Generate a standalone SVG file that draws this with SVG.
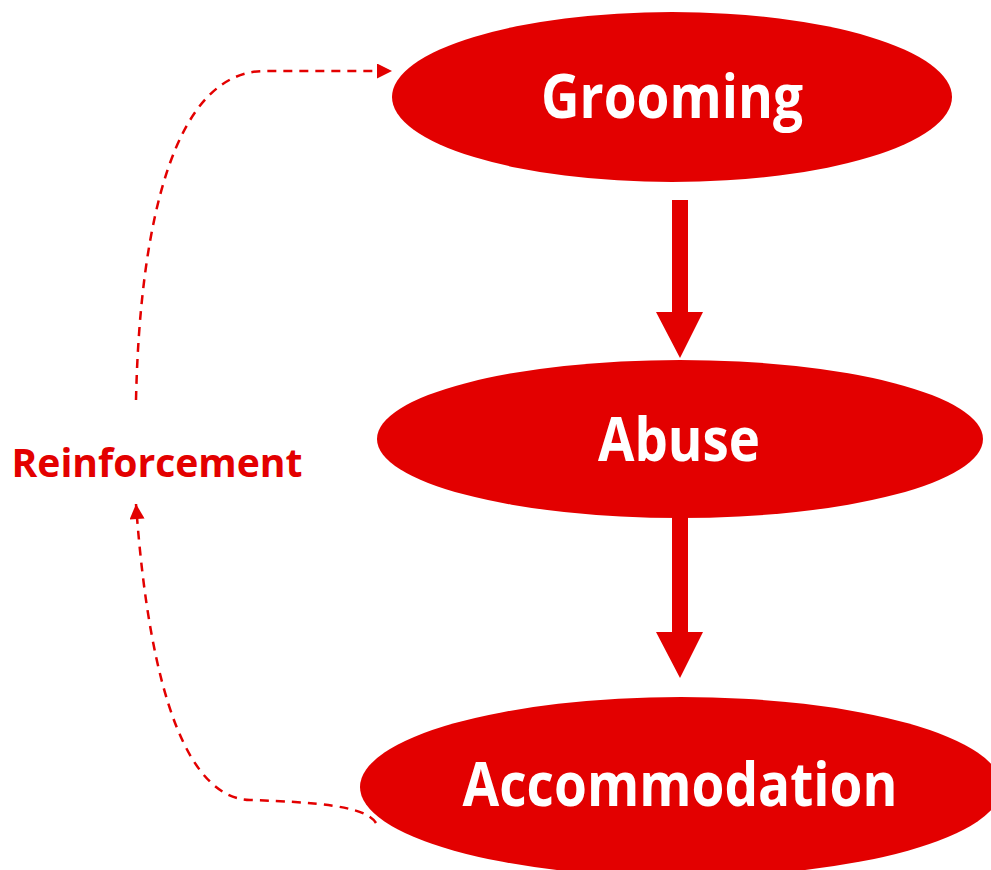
<svg xmlns="http://www.w3.org/2000/svg" width="991" height="870" viewBox="0 0 991 870">
<defs>
<style>
.node{fill:#E30000;}
.lbl{fill:#fff;font-family:"Open Sans","Liberation Sans",sans-serif;font-weight:bold;font-size:60px;text-anchor:middle;}
.dash{fill:none;stroke:#E30000;stroke-width:2.5;stroke-dasharray:9 7;}
.big{fill:#E30000;}
.side{fill:#E30000;font-family:"Open Sans","Liberation Sans",sans-serif;font-weight:bold;font-size:39px;text-anchor:middle;}
</style>
<marker id="ah" viewBox="0 0 10 10" refX="10" refY="5" markerWidth="17" markerHeight="15" markerUnits="userSpaceOnUse" orient="auto">
<path d="M0,0 L10,5 L0,10 Z" fill="#E30000"/>
</marker>
</defs>
<rect width="991" height="870" fill="#fff"/>
<g id="connectors">
<path class="big" d="M672,200 H688 V312 H703 L680,358 L656,312 H672 Z"/>
<path class="big" d="M672,515 H688 V632 H703 L680,678 L656,632 H672 Z"/>
<path class="dash" d="M136,400 C140,220 175,71 265,71 L392,71" marker-end="url(#ah)"/>
<path class="dash" d="M376,823 C366,806 315,802 250,800 C190,798 150,700 136,504" marker-end="url(#ah)"/>
</g>
<g id="grooming">
<ellipse class="node" cx="672" cy="97" rx="280" ry="85"/>
<text class="lbl" x="672" y="118" textLength="262" lengthAdjust="spacingAndGlyphs">Grooming</text>
</g>
<g id="abuse">
<ellipse class="node" cx="680" cy="439" rx="303" ry="79"/>
<text class="lbl" x="679" y="461" textLength="162" lengthAdjust="spacingAndGlyphs">Abuse</text>
</g>
<g id="accommodation">
<ellipse class="node" cx="681" cy="787" rx="321" ry="90"/>
<text class="lbl" x="680" y="806" textLength="435" lengthAdjust="spacingAndGlyphs">Accommodation</text>
</g>
<g id="reinforcement">
<text class="side" x="157" y="477" textLength="291" lengthAdjust="spacingAndGlyphs">Reinforcement</text>
</g>
</svg>
